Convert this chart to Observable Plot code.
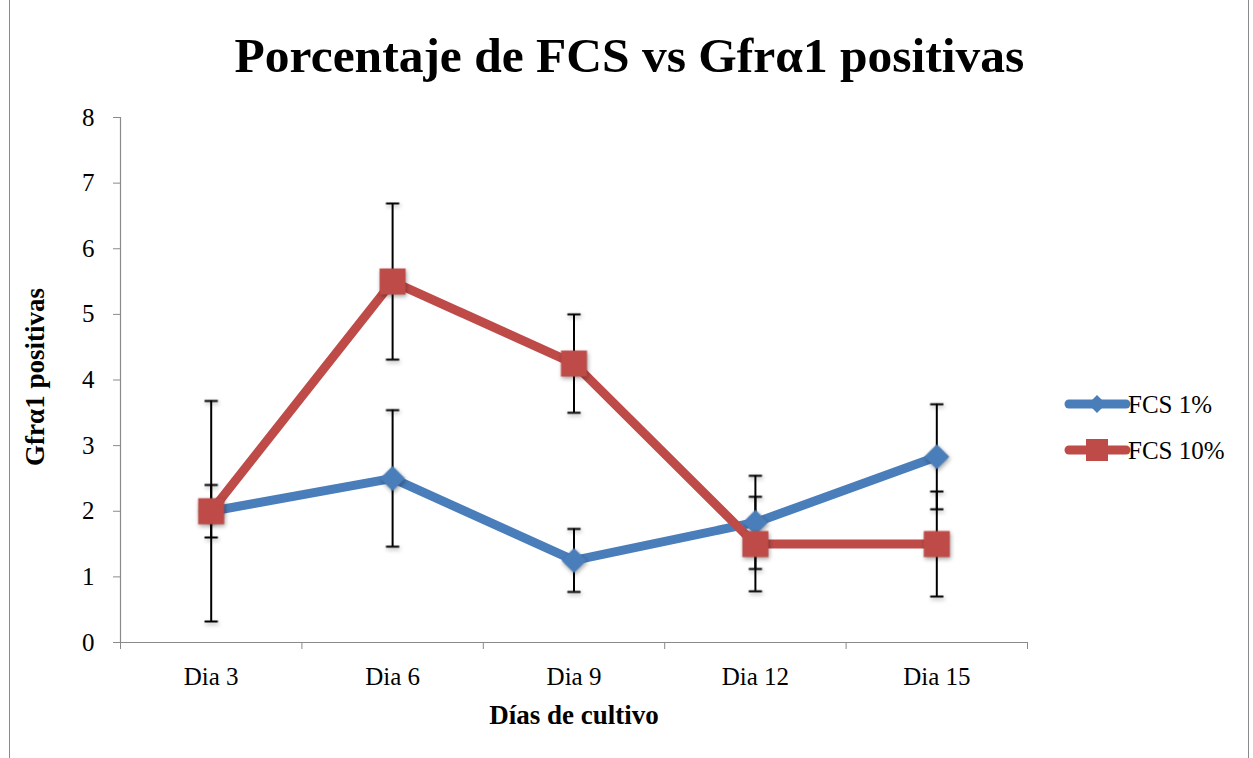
<!DOCTYPE html>
<html>
<head>
<meta charset="utf-8">
<script src="https://cdn.jsdelivr.net/npm/d3@7"></script>
<script src="https://cdn.jsdelivr.net/npm/@observablehq/plot@0.6"></script>
<style>
  html, body { margin: 0; padding: 0; background: #fff; }
  #wrap { position: relative; width: 1253px; height: 758px; overflow: hidden; font-family: "Liberation Serif", serif; }
  #frame { position: absolute; left: 9px; top: -2px; width: 1240px; height: 780px; border: 1.5px solid #8a8a8a; box-sizing: border-box; }
  #title { position: absolute; left: 3px; width: 1253px; top: 27px; text-align: center; font-weight: bold; font-size: 49.5px; color: #000; }
  #chart { position: absolute; left: 0; top: 0; }
  #legend { position: absolute; left: 1060px; top: 380px; }
  g[aria-label="dot"] { filter: drop-shadow(1px 2px 2px rgba(0,0,0,0.35)); }
</style>
</head>
<body>
<div id="wrap">
  <div id="frame"></div>
  <div id="chart"></div>
  <div id="title">Porcentaje de FCS vs Gfrα1 positivas</div>
  <div id="legend"></div>
</div>
<script>
const categories = ["Dia 3", "Dia 6", "Dia 9", "Dia 12", "Dia 15"];
const seriesNames = ["FCS 1%", "FCS 10%"];
const fcs1 = [2.0, 2.5, 1.25, 1.83, 2.83];
const fcs1Err = [0.4, 1.04, 0.48, 0.71, 0.8];
const fcs10 = [2.0, 5.5, 4.25, 1.5, 1.5];
const fcs10Err = [1.68, 1.19, 0.75, 0.72, 0.8];
const yTicks = [0, 1, 2, 3, 4, 5, 6, 7, 8];
const xTitle = "Días de cultivo";
const yTitle = "Gfrα1 positivas";

const colors = {"FCS 1%": "#4A7EBB", "FCS 10%": "#BE4B48"};

const rows = [];
categories.forEach((c, i) => {
  rows.push({series: "FCS 1%", pos: i + 0.5, value: fcs1[i], err: fcs1Err[i]});
  rows.push({series: "FCS 10%", pos: i + 0.5, value: fcs10[i], err: fcs10Err[i]});
});
const r1 = rows.filter(d => d.series === "FCS 1%");
const r10 = rows.filter(d => d.series === "FCS 10%");

const capSymbol = {
  draw(context, size) {
    const w = Math.sqrt(size);
    context.moveTo(-w / 2, 0);
    context.lineTo(w / 2, 0);
  }
};

const font = "Liberation Serif";

const plot = Plot.plot({
  width: 1253,
  height: 758,
  marginLeft: 120,
  marginRight: 226,
  marginTop: 117,
  marginBottom: 116,
  style: {fontFamily: font, fontSize: "25px", background: "transparent", overflow: "visible"},
  x: {domain: [0, categories.length], axis: null},
  y: {domain: [0, 8], axis: null},
  marks: [
    Plot.axisY({ticks: yTicks, tickSize: 7, tickPadding: 19, stroke: "#8a8a8a", fill: "#000", fontSize: 25, label: null, tickFormat: d => String(d)}),
    Plot.axisX({ticks: d3.range(0, categories.length + 1), tickSize: 7, stroke: "#8a8a8a", tickFormat: () => "", label: null}),
    Plot.axisX({ticks: categories.map((c, i) => i + 0.5), tickSize: 0, tickPadding: 25, fill: "#000", fontSize: 25, tickFormat: d => categories[Math.floor(d)], label: null}),
    Plot.ruleX([0], {stroke: "#8a8a8a", strokeWidth: 1.2}),
    Plot.ruleY([0], {stroke: "#8a8a8a", strokeWidth: 1.2}),
    Plot.text([xTitle], {frameAnchor: "bottom", dy: 81, fontWeight: "bold", fontSize: 27, fill: "#000"}),
    Plot.text([yTitle], {frameAnchor: "left", dx: -85, dy: -3, rotate: -90, textAnchor: "middle", fontWeight: "bold", fontSize: 27, fill: "#000"}),
    // error bars
    Plot.ruleX(rows, {x: "pos", y1: d => d.value - d.err, y2: d => d.value + d.err, stroke: "#000", strokeWidth: 2}),
    Plot.dot(rows, {x: "pos", y: d => d.value + d.err, symbol: capSymbol, r: 7.5, stroke: "#000", strokeWidth: 2, fill: "none"}),
    Plot.dot(rows, {x: "pos", y: d => d.value - d.err, symbol: capSymbol, r: 7.5, stroke: "#000", strokeWidth: 2, fill: "none"}),
    // lines
    Plot.line(r1, {x: "pos", y: "value", stroke: colors["FCS 1%"], strokeWidth: 9, strokeLinejoin: "round", strokeLinecap: "round"}),
    Plot.dot(r1, {x: "pos", y: "value", symbol: "diamond2", r: 11.3, fill: colors["FCS 1%"], stroke: "none"}),
    Plot.line(r10, {x: "pos", y: "value", stroke: colors["FCS 10%"], strokeWidth: 9, strokeLinejoin: "round", strokeLinecap: "round"}),
    Plot.dot(r10, {x: "pos", y: "value", symbol: "square", r: 14.7, fill: colors["FCS 10%"], stroke: "none"})
  ]
});
document.getElementById("chart").appendChild(plot);

// legend
const ns = "http://www.w3.org/2000/svg";
const lg = document.createElementNS(ns, "svg");
lg.setAttribute("width", 190);
lg.setAttribute("height", 100);
seriesNames.forEach((name, k) => {
  const cy = 24 + k * 46;
  const line = document.createElementNS(ns, "line");
  line.setAttribute("x1", 9); line.setAttribute("x2", 66);
  line.setAttribute("y1", cy); line.setAttribute("y2", cy);
  line.setAttribute("stroke", colors[name]); line.setAttribute("stroke-width", 9);
  line.setAttribute("stroke-linecap", "round");
  lg.appendChild(line);
  const m = document.createElementNS(ns, "path");
  const cx = 37;
  if (k === 0) {
    m.setAttribute("d", `M${cx},${cy - 9}L${cx + 9},${cy}L${cx},${cy + 9}L${cx - 9},${cy}Z`);
  } else {
    m.setAttribute("d", `M${cx - 11},${cy - 11}h22v22h-22Z`);
  }
  m.setAttribute("fill", colors[name]);
  lg.appendChild(m);
  const t = document.createElementNS(ns, "text");
  t.setAttribute("x", 68); t.setAttribute("y", cy + 9);
  t.setAttribute("font-family", font); t.setAttribute("font-size", 25);
  t.textContent = name;
  lg.appendChild(t);
});
document.getElementById("legend").appendChild(lg);
</script>
</body>
</html>
